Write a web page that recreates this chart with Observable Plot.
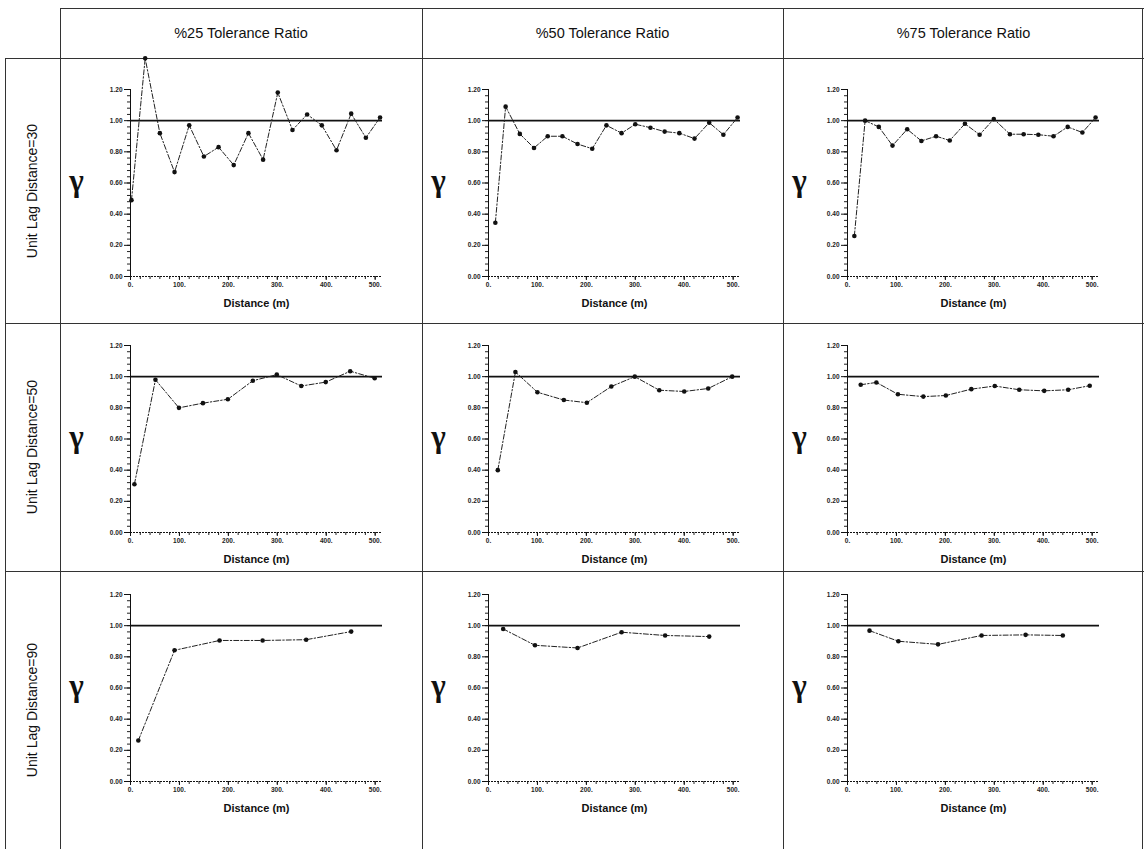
<!DOCTYPE html>
<html>
<head>
<meta charset="utf-8">
<script src="https://cdn.jsdelivr.net/npm/d3@7"></script>
<script src="https://cdn.jsdelivr.net/npm/@observablehq/plot@0.6"></script>
<style>
  html, body { margin: 0; padding: 0; background: #fff; }
  #wrap { position: relative; width: 1144px; height: 849px; overflow: hidden; background: #fff;
          font-family: "Liberation Sans", Arial, Helvetica, sans-serif; color: #111; }
  .ln { position: absolute; background: #333; }
  .hdr { position: absolute; top: 8px; height: 50px; line-height: 50px; text-align: center; font-size: 14.5px; }
  .rl { position: absolute; left: 5px; width: 55px; display: flex; align-items: center; justify-content: center; }
  .rl span { transform: rotate(-90deg); white-space: nowrap; font-size: 14px; }
  .cell { position: absolute; }
</style>
</head>
<body>
<div id="wrap"></div>
<script>
// ---- data ----
const tolerances = ["%25 Tolerance Ratio", "%50 Tolerance Ratio", "%75 Tolerance Ratio"];
const lagLabels = ["Unit Lag Distance=30", "Unit Lag Distance=50", "Unit Lag Distance=90"];
const sill = 1.0;
const xTickLabels = [0, 100, 200, 300, 400, 500];
const yTickLabels = [0, 0.2, 0.4, 0.6, 0.8, 1.0, 1.2];

// lag 30
const dist30_t25 = [2, 30, 60, 90, 120, 150, 180, 211, 241, 271, 301, 331, 361, 391, 421, 451, 481, 510];
const gam30_t25  = [0.49, 1.40, 0.92, 0.67, 0.97, 0.77, 0.83, 0.715, 0.92, 0.75, 1.18, 0.94, 1.04, 0.97, 0.81, 1.045, 0.89, 1.02];
const dist30_t50 = [14, 35, 64, 93, 121, 151, 182, 212, 241, 272, 300, 331, 360, 390, 421, 451, 480, 509];
const gam30_t50  = [0.345, 1.09, 0.915, 0.825, 0.90, 0.90, 0.85, 0.82, 0.97, 0.92, 0.977, 0.955, 0.93, 0.92, 0.885, 0.987, 0.91, 1.02];
const dist30_t75 = [14, 36, 64, 92, 122, 151, 181, 209, 240, 270, 299, 332, 360, 390, 421, 450, 480, 507];
const gam30_t75  = [0.26, 1.0, 0.96, 0.84, 0.945, 0.87, 0.90, 0.873, 0.98, 0.91, 1.01, 0.913, 0.913, 0.91, 0.90, 0.96, 0.924, 1.02];
// lag 50
const dist50_t25 = [8, 51, 99, 148, 199, 250, 299, 349, 399, 449, 499];
const gam50_t25  = [0.31, 0.98, 0.80, 0.83, 0.855, 0.974, 1.013, 0.94, 0.965, 1.035, 0.99];
const dist50_t50 = [19, 55, 100, 154, 201, 251, 299, 349, 400, 449, 498];
const gam50_t50  = [0.40, 1.03, 0.90, 0.85, 0.833, 0.937, 1.0, 0.913, 0.905, 0.924, 1.0];
const dist50_t75 = [27, 59, 103, 155, 201, 253, 301, 351, 402, 451, 495];
const gam50_t75  = [0.948, 0.963, 0.887, 0.872, 0.879, 0.92, 0.94, 0.916, 0.909, 0.916, 0.942];
// lag 90
const dist90_t25 = [16, 90, 182, 270, 359, 451];
const gam90_t25  = [0.263, 0.842, 0.905, 0.905, 0.91, 0.962];
const dist90_t50 = [30, 95, 182, 272, 361, 451];
const gam90_t50  = [0.979, 0.874, 0.857, 0.958, 0.937, 0.93];
const dist90_t75 = [45, 104, 185, 274, 364, 440];
const gam90_t75  = [0.968, 0.90, 0.88, 0.937, 0.941, 0.937];

const panels = [
  [[dist30_t25, gam30_t25], [dist30_t50, gam30_t50], [dist30_t75, gam30_t75]],
  [[dist50_t25, gam50_t25], [dist50_t50, gam50_t50], [dist50_t75, gam50_t75]],
  [[dist90_t25, gam90_t25], [dist90_t50, gam90_t50], [dist90_t75, gam90_t75]]
];

// ---- layout ----
const colX = [60, 422, 783, 1144];
const rowY = [58, 323, 571, 849];
const marginL = [70, 66, 64];
const marginT = [31, 22, 23];
const plotH = 187;
const axisLen = 252;
const xMax = 515;

const wrap = document.getElementById("wrap");
function line(x, y, w, h) {
  const d = document.createElement("div");
  d.className = "ln";
  Object.assign(d.style, {left: x + "px", top: y + "px", width: w + "px", height: h + "px"});
  wrap.appendChild(d);
}
// borders
line(60, 8, 1084, 1);
line(5, 58, 1139, 1);
line(5, 323, 1139, 1);
line(5, 571, 1139, 1);
line(5, 58, 1, 791);
for (const x of [60, 422, 783]) line(x, 8, 1, 841);
line(1142, 8, 1, 841);

// header
tolerances.forEach((t, i) => {
  const d = document.createElement("div");
  d.className = "hdr";
  d.style.left = colX[i] + "px";
  d.style.width = (colX[i + 1] - colX[i]) + "px";
  d.textContent = t;
  wrap.appendChild(d);
});
// row labels
lagLabels.forEach((t, r) => {
  const d = document.createElement("div");
  d.className = "rl";
  d.style.top = rowY[r] + "px";
  d.style.height = (rowY[r + 1] - rowY[r]) + "px";
  const s = document.createElement("span");
  s.textContent = t;
  d.appendChild(s);
  wrap.appendChild(d);
});

const hasAxis = typeof Plot.axisX === "function";

function makePanel(r, c) {
  const [dist, gam] = panels[r][c];
  const data = dist.map((d, i) => ({d, g: gam[i]}));
  const W = colX[c + 1] - colX[c];
  const H = rowY[r + 1] - rowY[r];
  const mL = marginL[c], mT = marginT[r];
  const mR = W - mL - axisLen;
  const mB = H - mT - plotH;
  const marks = [];
  if (hasAxis) {
    marks.push(
      Plot.axisY({ticks: d3.range(0, 1.2001, 0.04), tickSize: 3, tickFormat: () => "", label: null, stroke: "#222"}),
      Plot.axisY({ticks: yTickLabels, tickSize: 6, tickPadding: 2, tickFormat: d => d.toFixed(2), label: null,
                  fontSize: 6.5, fontWeight: "bold", fill: "#222"}),
      Plot.axisX({ticks: d3.range(0, 501, 20), tickSize: 3, tickFormat: () => "", label: null, stroke: "#222"}),
      Plot.axisX({ticks: xTickLabels, tickSize: 4, tickPadding: 2, tickFormat: d => d + ".", label: null,
                  fontSize: 6.5, fontWeight: "bold", fill: "#222"})
    );
  }
  marks.push(
    Plot.ruleX([0], {stroke: "#111", strokeWidth: 1}),
    Plot.ruleY([0], {stroke: "#111", strokeWidth: 1, strokeDasharray: "2,1"}),
    Plot.ruleY([sill], {x1: 0, x2: xMax, stroke: "#111", strokeWidth: 1.6}),
    Plot.line(data, {x: "d", y: "g", stroke: "#222", strokeWidth: 1, strokeDasharray: "5,2,1.5,2"}),
    Plot.dot(data, {x: "d", y: "g", r: 2.3, fill: "#111", stroke: "none"}),
    Plot.text(["γ"], {frameAnchor: "left", dx: 16 - mL, dy: -2, textAnchor: "middle", fontSize: 31, fontWeight: "bold",
                      fontFamily: "'Liberation Serif', 'DejaVu Serif', serif", fill: "#111"}),
    Plot.text(["Distance (m)"], {frameAnchor: "bottom", dy: 27, lineAnchor: "middle", fontSize: 11, fontWeight: "bold", fill: "#111"})
  );
  const opts = {
    width: W, height: H,
    marginLeft: mL, marginRight: mR, marginTop: mT, marginBottom: mB,
    x: {domain: [0, xMax]},
    y: {domain: [0, 1.2]},
    style: {background: "transparent", fontFamily: "'Liberation Sans', Arial, sans-serif", fontSize: "6.5px", overflow: "visible"},
    marks
  };
  if (hasAxis) { opts.x.axis = null; opts.y.axis = null; }
  else {
    opts.x = {...opts.x, ticks: xTickLabels, tickFormat: d => d + ".", tickSize: 4, label: null};
    opts.y = {...opts.y, ticks: yTickLabels, tickFormat: d => d.toFixed(2), tickSize: 6, label: null};
  }
  const svg = Plot.plot(opts);
  const holder = document.createElement("div");
  holder.className = "cell";
  holder.style.left = colX[c] + "px";
  holder.style.top = rowY[r] + "px";
  holder.appendChild(svg);
  wrap.appendChild(holder);
}

for (let r = 0; r < 3; r++) for (let c = 0; c < 3; c++) makePanel(r, c);
</script>
</body>
</html>
